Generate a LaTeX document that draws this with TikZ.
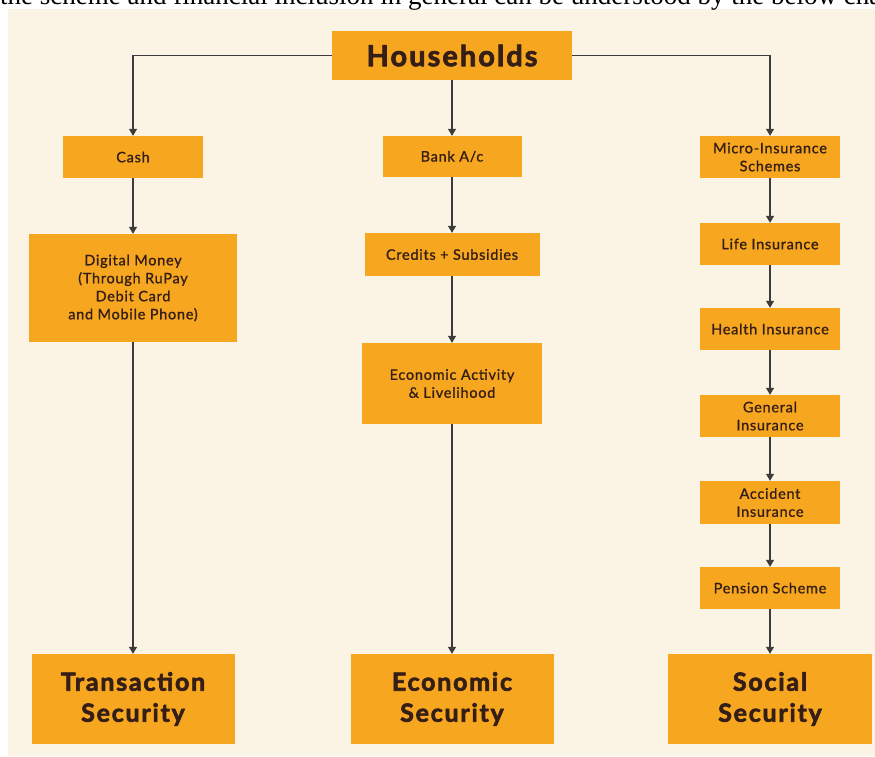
\documentclass[tikz,border=0pt]{standalone}
\usepackage{fontspec}
\setmainfont{Lato}
\newfontfamily\captionserif{Liberation Serif}
\newfontfamily\boxfont{Lato}[LetterSpace=5, FakeBold=1]
\newfontfamily\headfont{Lato}[LetterSpace=7, FakeBold=2.5]
\usetikzlibrary{arrows.meta, positioning}
\definecolor{boxorange}{RGB}{247, 166, 32}
\definecolor{creambg}{RGB}{251, 243, 228}
\definecolor{inkbrown}{RGB}{52, 30, 22}
\definecolor{linegray}{RGB}{60, 60, 60}

\begin{document}
\begin{tikzpicture}[x=1pt, y=-1pt,
  box/.style={fill=boxorange, text=inkbrown, align=center, inner sep=0pt,
    minimum width=140pt, minimum height=42pt, font=\boxfont\fontsize{14.5}{18}\selectfont},
  bigbox/.style={box, minimum width=203pt, minimum height=90pt,
    font=\headfont\fontsize{25}{31}\selectfont\bfseries},
  link/.style={-{Triangle[width=8pt, length=7pt]}, linegray, line width=1.2pt}]
  \useasboundingbox (0,0) rectangle (875,756);
  \clip (0,0) rectangle (875,756);

  % page behind the chart
  \fill[creambg] (8,9) rectangle (875,756);
  \node[anchor=base west, inner sep=0pt, font=\captionserif\fontsize{27}{31}\selectfont] (caption) at (0,4.5)
    {the scheme and financial inclusion in general can be understood by the below chart};

  % Households
  \node[box, minimum width=240pt, minimum height=49pt, font=\headfont\fontsize{29}{34}\selectfont\bfseries] (hh) at (452,55.5) {Households};

  % Transaction column
  \node[box] (cash) at (133,157) {Cash};
  \node[box, minimum width=208pt, minimum height=108pt] (digital) at (133,288) {Digital Money\\(Through RuPay\\Debit Card\\and Mobile Phone)};
  \node[bigbox] (transsec) at (133,699) {Transaction\\Security};

  % Economic column
  \node[box, minimum width=139pt, minimum height=41pt] (bank) at (452,156.5) {Bank A/c};
  \node[box, minimum width=175pt, minimum height=43pt] (credits) at (452,254.5) {Credits + Subsidies};
  \node[box, minimum width=180pt, minimum height=81pt] (ecoact) at (452,383.5) {Economic Activity\\\& Livelihood};
  \node[bigbox] (ecosec) at (452,699) {Economic\\Security};

  % Social column
  \node[box] (micro) at (770,157) {Micro-Insurance\\Schemes};
  \node[box] (life) at (770,244) {Life Insurance};
  \node[box] (health) at (770,329) {Health Insurance};
  \node[box] (general) at (770,416) {General\\Insurance};
  \node[box, minimum height=43pt] (accident) at (770,502.5) {Accident\\Insurance};
  \node[box] (pension) at (770,588) {Pension Scheme};
  \node[bigbox, minimum width=204pt] (socsec) at (770,699) {Social\\Security};

  % connectors
  \draw[link] (hh.west) -| (cash.north);
  \draw[link] (hh.south) -- (bank.north);
  \draw[link] (hh.east) -| (micro.north);
  \draw[link] (cash) -- (digital);
  \draw[link] (digital) -- (transsec);
  \draw[link] (bank) -- (credits);
  \draw[link] (credits) -- (ecoact);
  \draw[link] (ecoact) -- (ecosec);
  \draw[link] (micro) -- (life);
  \draw[link] (life) -- (health);
  \draw[link] (health) -- (general);
  \draw[link] (general) -- (accident);
  \draw[link] (accident) -- (pension);
  \draw[link] (pension) -- (socsec);
\end{tikzpicture}
\end{document}
